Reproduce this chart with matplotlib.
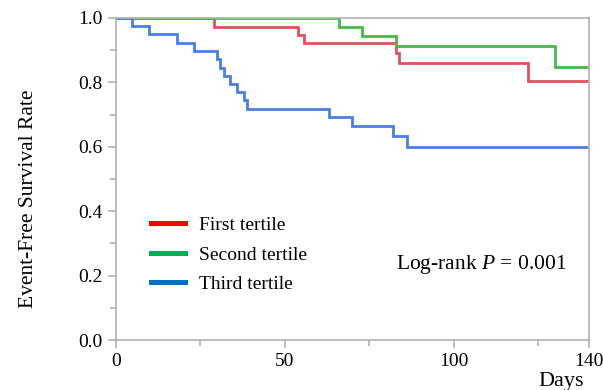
import matplotlib.pyplot as plt
from matplotlib.lines import Line2D
import numpy as np

plt.rcParams['font.family'] = ['Liberation Serif', 'DejaVu Serif']
plt.rcParams['mathtext.fontset'] = 'custom'
plt.rcParams['mathtext.it'] = 'Liberation Serif:italic'
plt.rcParams['mathtext.rm'] = 'Liberation Serif'

# step curves: (day of drop, survival after drop)
first_days = [0, 29, 54, 55.7, 82.8, 83.8, 122, 140]
first_surv = [1.0, 0.973, 0.948, 0.921, 0.89, 0.859, 0.804, 0.804]

second_days = [0, 66, 72.8, 83, 130, 140]
second_surv = [1.0, 0.972, 0.944, 0.913, 0.847, 0.847]

third_days = [0, 4.8, 9.9, 18.1, 23, 30, 30.7, 31.9, 33.9, 35.9, 38, 38.8,
              63, 70, 82, 86, 140]
third_surv = [1.0, 0.975, 0.95, 0.923, 0.897, 0.872, 0.846, 0.82, 0.795,
              0.769, 0.744, 0.718, 0.692, 0.666, 0.634, 0.598, 0.598]

labels = ['First tertile', 'Second tertile', 'Third tertile']
line_colors = ['#e0525f', '#45b94a', '#4a7fe0']
legend_colors = ['#ff0000', '#00b050', '#0070c0']

fig = plt.figure(figsize=(6.03, 3.9), dpi=100)
ax = fig.add_axes([0.192, 0.128, 0.785, 0.826])

for d, s, c in zip([first_days, second_days, third_days],
                   [first_surv, second_surv, third_surv], line_colors):
    ax.step(d, s, where='post', color=c, lw=2, solid_joinstyle='miter')

ax.set_xlim(0, 140)
ax.set_ylim(0, 1.0)
ax.set_xticks([0, 50, 100, 140])
ax.set_xticks([25, 75, 125], minor=True)
ax.set_yticks(np.arange(0, 1.01, 0.2))
ax.set_yticks(np.arange(0.1, 1.0, 0.2), minor=True)
ax.yaxis.set_major_formatter(plt.FormatStrFormatter('%.1f'))

for sp in ax.spines.values():
    sp.set_color('#b0b0b0')
    sp.set_linewidth(1.2)
ax.tick_params(which='both', color='#b0b0b0', width=1.2, labelsize=14)
ax.tick_params(which='major', length=6)
ax.tick_params(which='minor', length=4)

ax.set_ylabel('Event-Free Survival Rate', fontsize=15.5)
ax.yaxis.set_label_coords(-0.165, 0.44)
fig.text(0.930, 0.022, 'Days', fontsize=16, ha='center', va='center')

handles = [Line2D([], [], color=c, lw=3.6) for c in legend_colors]
ax.legend(handles, labels, loc='center left', bbox_to_anchor=(0.037, 0.265),
          frameon=False, fontsize=14, handlelength=1.75, labelspacing=0.6,
          handletextpad=0.75)

ax.text(0.952, 0.235, 'Log-rank $\\mathit{P}$ = 0.001', transform=ax.transAxes,
        ha='right', va='center', fontsize=15.5)

fig.savefig('out.png', dpi=100)
